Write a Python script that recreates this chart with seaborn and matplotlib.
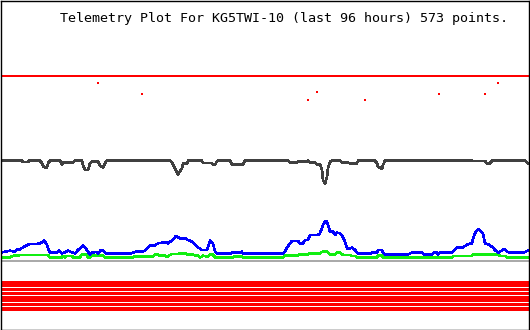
import matplotlib
matplotlib.use("Agg")
import matplotlib.pyplot as plt
import seaborn as sns
import pandas as pd

# ---- data (time column across the plot, level; larger level = lower on chart) ----
title = "Telemetry Plot For KG5TWI-10 (last 96 hours) 573 points."

blue_x = [0, 5, 10, 15, 17, 20, 23, 27, 30, 37, 40, 43, 44, 47, 48, 50, 57, 59, 62, 65, 68, 72, 75, 78, 83, 85,
          88, 90, 92, 96, 98, 101, 103, 105, 107, 130, 133, 137, 143, 145, 147, 150, 155, 158, 162, 165, 168,
          170, 173, 176, 180, 185, 188, 192, 197, 202, 207, 208, 210, 213, 215, 217, 220, 230, 233, 240, 242,
          243, 245, 265, 275, 283, 285, 287, 292, 298, 300, 303, 305, 308, 310, 318, 320, 323, 325, 327, 328,
          330, 333, 335, 337, 340, 343, 345, 347, 350, 352, 355, 358, 362, 365, 370, 372, 377, 378, 382, 383,
          385, 408, 412, 422, 424, 432, 434, 437, 438, 440, 452, 457, 462, 465, 468, 472, 473, 475, 478, 481,
          483, 485, 488, 492, 495, 498, 500, 504, 507, 510, 523, 528]
blue_y = [252.7, 251.7, 250.7, 251.7, 249.3, 249.3, 247.3, 245.3, 244, 244, 243.3, 241.7, 240.7, 244.3, 248.3,
          252.7, 252.7, 250.7, 253.3, 252.3, 250.7, 252.3, 253.3, 250, 245.7, 247.3, 251.7, 254.3, 252.7, 252,
          253.3, 250, 250, 252.7, 253.7, 253.7, 252.7, 251.3, 251.3, 250.7, 248.3, 245.3, 245.3, 243.3, 242.7,
          242, 243.3, 242, 239.3, 236, 238.3, 238.3, 240, 241.7, 246.7, 250, 250, 247.3, 240.7, 243.3, 251.7,
          253.3, 253.7, 253.7, 252.3, 252.3, 251.7, 254, 253.7, 253.7, 253.7, 253.3, 251.7, 247.3, 241, 241,
          243.3, 243.3, 240, 240, 235, 235, 233.3, 225, 221.7, 221.7, 225, 231.7, 231.7, 235, 232.7, 233.3,
          237.3, 241.7, 248.3, 248.3, 247.7, 250, 253.3, 253.3, 253.7, 253.7, 252.7, 252.7, 250, 250, 252.7,
          254.3, 254.3, 252.7, 252.7, 254.3, 254.3, 252.7, 252.7, 254.3, 252.7, 252.7, 247.7, 247.7, 246,
          244.3, 243.3, 239.3, 233.3, 229, 231, 234, 243.3, 244.3, 246.7, 250, 252.7, 251.7, 249, 251.7, 252.7,
          252.7, 250.7]

green_x = [0, 10, 12, 22, 48, 50, 62, 63, 65, 67, 72, 73, 80, 82, 85, 87, 88, 90, 92, 103, 105, 133, 135, 153,
           155, 158, 160, 165, 167, 170, 172, 178, 180, 185, 187, 193, 195, 198, 200, 202, 203, 208, 210, 213,
           215, 233, 235, 242, 243, 265, 283, 285, 298, 300, 308, 310, 320, 323, 327, 328, 330, 335, 337, 340,
           342, 343, 350, 352, 355, 357, 377, 378, 382, 383, 385, 418, 420, 452, 453, 472, 473, 498, 500, 505,
           507, 528]
green_y = [257.7, 257.7, 256, 255, 255, 257.3, 257.3, 256, 257.3, 256, 256, 257.3, 257.3, 254.3, 254.3, 255.3,
           257.3, 257.3, 255.7, 255.7, 257.3, 257.3, 256.3, 256.3, 254.7, 254.7, 255.7, 255.7, 256.7, 255, 254,
           254, 253.3, 253.3, 254.3, 254.3, 255.7, 255.7, 257.3, 256.7, 255.7, 256.7, 254.3, 254.7, 257.3,
           257.3, 256.3, 256.3, 257.3, 257.3, 257.3, 255.3, 255.3, 254.3, 254.3, 253.3, 253.3, 251.3, 251.3,
           252.7, 254.3, 254.3, 252.7, 252.7, 254, 255, 255, 256, 256, 257.3, 257.3, 255.7, 255.7, 257.3, 257.7,
           257.7, 257.7, 257.7, 256, 256, 254.3, 254.3, 256, 256, 257.3, 257.3]

black_x = [0, 22, 23, 28, 29, 40, 42, 43, 45, 47, 48, 50, 60, 62, 63, 73, 75, 82, 83, 85, 88, 90, 92, 98, 100,
           103, 105, 107, 108, 170, 172, 175, 178, 182, 183, 187, 188, 202, 203, 212, 213, 215, 217, 218, 230,
           232, 243, 245, 265, 288, 290, 297, 298, 306, 308, 310, 315, 317, 320, 322, 323, 325, 327, 328, 330,
           332, 340, 342, 348, 350, 357, 358, 375, 377, 378, 382, 383, 385, 472, 473, 485, 487, 490, 492, 525,
           528]
black_y = [160.7, 160.7, 162, 162, 160.7, 160.7, 163.3, 166, 167.7, 167.7, 163.3, 160.7, 160.7, 165, 162.7,
           162.7, 160.7, 160.7, 165, 170, 170, 163.3, 161.7, 161.7, 165.7, 167.7, 163.3, 160, 160.7, 160.7,
           162.3, 168.3, 174.3, 168.3, 163.3, 164, 160.7, 160.7, 163, 163, 165, 165, 161.3, 160.7, 160.7,
           164.3, 164.3, 160.7, 160.7, 160.7, 162.3, 162.3, 161.7, 161.7, 160.7, 162.7, 162.7, 164.3, 164.3,
           170, 180, 184, 176.7, 168.3, 161.7, 160.7, 160.7, 162.7, 162.7, 163.3, 163.3, 160.7, 160.7, 163.3,
           166.7, 169, 165, 160.7, 160.7, 161, 161, 163.3, 163.3, 160.7, 160.7, 163.3]

red_level = 75.5
red_drop_x = [98, 142, 308, 317, 365, 439, 485, 498]
red_drop_y = [82.7, 93.7, 100.3, 91.7, 100.3, 93.7, 93.7, 82.7]

gray_level = 261
gray_drop_x = [465]

bit_levels = [281.5, 285.3, 289, 292.7, 296.5, 300.3, 304, 307.7, 309]

x_start, x_end = 1, 528

# ---- figure ----
sns.set_theme(style="white")
fig = plt.figure(figsize=(5.3, 3.3), dpi=100)
fig.patch.set_facecolor("white")
ax = fig.add_axes([0.5 / 530, 0.5 / 330, 528.5 / 530, 329 / 330])
ax.set_facecolor("white")

def segments(level, drops, name):
    rows = []
    edges = [x_start] + [d for d in drops] + [x_end]
    for i in range(len(edges) - 1):
        a = edges[i] + (1 if i > 0 else 0)
        b = edges[i + 1] - (1 if i < len(edges) - 2 else 0)
        rows.append({"x": a, "y": level, "seg": f"{name}{i}"})
        rows.append({"x": b, "y": level, "seg": f"{name}{i}"})
    return pd.DataFrame(rows)

px = 0.72  # one pixel in points at 100 dpi

# bit stripes
bits = pd.DataFrame([{"x": x, "y": lv, "seg": f"b{i}"} for i, lv in enumerate(bit_levels) for x in (x_start, x_end)])
sns.lineplot(data=bits, x="x", y="y", units="seg", estimator=None, color="#ff0000",
             linewidth=3 * px, ax=ax, legend=False, antialiased=False)

# gray
sns.lineplot(data=segments(gray_level, gray_drop_x, "g"), x="x", y="y", units="seg", estimator=None,
             color="#aaaaaa", linewidth=2 * px, ax=ax, legend=False, antialiased=False)

# green, blue, black curves
for xs, ys, col in [(green_x, green_y, "#11ee11"), (blue_x, blue_y, "#0000ff"), (black_x, black_y, "#404040")]:
    sns.lineplot(x=xs, y=ys, sort=False, estimator=None, color=col, linewidth=1.6 * px, ax=ax,
                 legend=False, antialiased=False)

# red main line with gaps and dropout points
sns.lineplot(data=segments(red_level, red_drop_x, "r"), x="x", y="y", units="seg", estimator=None,
             color="#ff0000", linewidth=2 * px, ax=ax, legend=False, antialiased=False)
sns.scatterplot(x=red_drop_x, y=red_drop_y, color="#ff0000", marker="s", s=2.5, linewidth=0, ax=ax,
                legend=False)

ax.set_xlim(0.5, 529)
ax.set_ylim(329.5, 0.5)
ax.set_xticks([])
ax.set_yticks([])
ax.set_xlabel("")
ax.set_ylabel("")
for s in ax.spines.values():
    s.set_visible(True)
    s.set_color("black")
    s.set_linewidth(1.4 * px)

fig.text(60 / 530, 1 - 22 / 330, title, family="DejaVu Sans Mono", fontsize=9.6,
         ha="left", va="baseline", color="black")

fig.savefig("out.png", dpi=100, facecolor="white")
